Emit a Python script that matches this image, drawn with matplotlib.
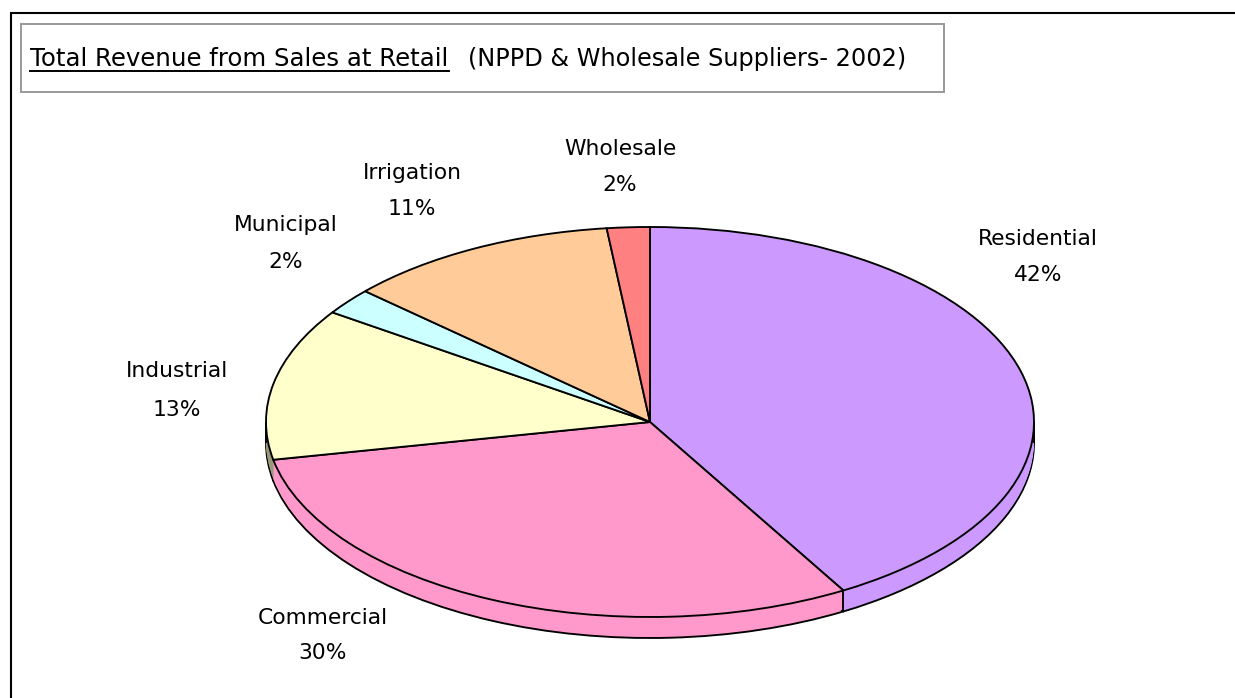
import numpy as np
import matplotlib
matplotlib.use('Agg')
import matplotlib.pyplot as plt

categories = ['Residential', 'Commercial', 'Industrial', 'Municipal', 'Irrigation', 'Wholesale']
values = [41.6, 30.3, 12.6, 2.2, 11.5, 1.8]
pct_labels = ['42%', '30%', '13%', '2%', '11%', '2%']   # as printed on the chart

colors = ['#CC99FF', '#FF99CC', '#FFFFCC', '#CCFFFF', '#FFCC99', '#FF8080']
wall_colors = ['#CC99FF', '#FF99CC', '#999977', '#CCFFFF', '#FFCC99', '#FF8080']

# label centres in pixels
label_x = [1038, 323, 177, 286, 412, 620]
label_y = [239, 618, 371, 225, 173, 149]
pct_y = [275, 653, 410, 262, 209, 185]

W, H = 1235, 698
cx, cy, rx, ry = 650, 422, 384, 195
depth = 21
squash = rx / ry
lw = 1.35

plt.rcParams['font.family'] = ['DejaVu Sans']

fig = plt.figure(figsize=(W / 100, H / 100), dpi=100)

# pie axes: x in pixels, y stretched so a circle comes out as the flat ellipse
ax = fig.add_axes([0, 0, 1, 1])
ax.axis('off')


def pie_at(offset, cols, **edge):
    return ax.pie(values, colors=cols, startangle=90, counterclock=False, radius=rx,
                  center=(cx, (H - cy - offset) * squash), frame=True,
                  wedgeprops=edge)[0]


# rim of the disc: outlined bottom, then filled steps up to the top face
pie_at(depth, wall_colors, edgecolor='black', linewidth=lw)
for off in range(depth - 2, 0, -1):
    pie_at(off, wall_colors, edgecolor='none', linewidth=0)
top = pie_at(0, colors, edgecolor='black', linewidth=lw, zorder=5)

# vertical lines on the visible rim
rim_angles = [top[0].theta2, top[1].theta2, 180, 0]
for ang in rim_angles:
    a = np.radians(ang)
    px = cx + rx * np.cos(a)
    py = (H - cy) * squash + rx * np.sin(a)
    ax.plot([px, px], [py, py - depth * squash], color='black', lw=lw, zorder=4,
            solid_capstyle='butt')

ax.set_aspect('auto')
ax.set_xlim(0, W)
ax.set_ylim(0, H * squash)
ax.axis('off')

# overlay in image pixels for the frame and the texts
ov = fig.add_axes([0, 0, 1, 1], facecolor='none')
ov.set_xlim(0, W)
ov.set_ylim(H, 0)
ov.axis('off')

ov.plot([10.5, 10.5, W], [H, 12.5, 12.5], color='black', lw=1.5, solid_joinstyle='miter')
ov.add_patch(plt.Rectangle((21, 24), 923, 68, fill=False, edgecolor='#999999', lw=1.4))

ov.text(30, 66, 'Total Revenue from Sales at Retail', fontsize=17.6, va='baseline', ha='left', color='black')
ov.plot([30, 449], [70.5, 70.5], color='black', lw=1.4)
ov.text(468, 66, '(NPPD & Wholesale Suppliers- 2002)', fontsize=17.3, va='baseline', ha='left', color='black')

for name, pct, x, y, y2 in zip(categories, pct_labels, label_x, label_y, pct_y):
    ov.text(x, y, name, fontsize=15.7, ha='center', va='center', color='black')
    ov.text(x, y2, pct, fontsize=15.7, ha='center', va='center', color='black')

fig.savefig('out.png', dpi=100, facecolor='white')
